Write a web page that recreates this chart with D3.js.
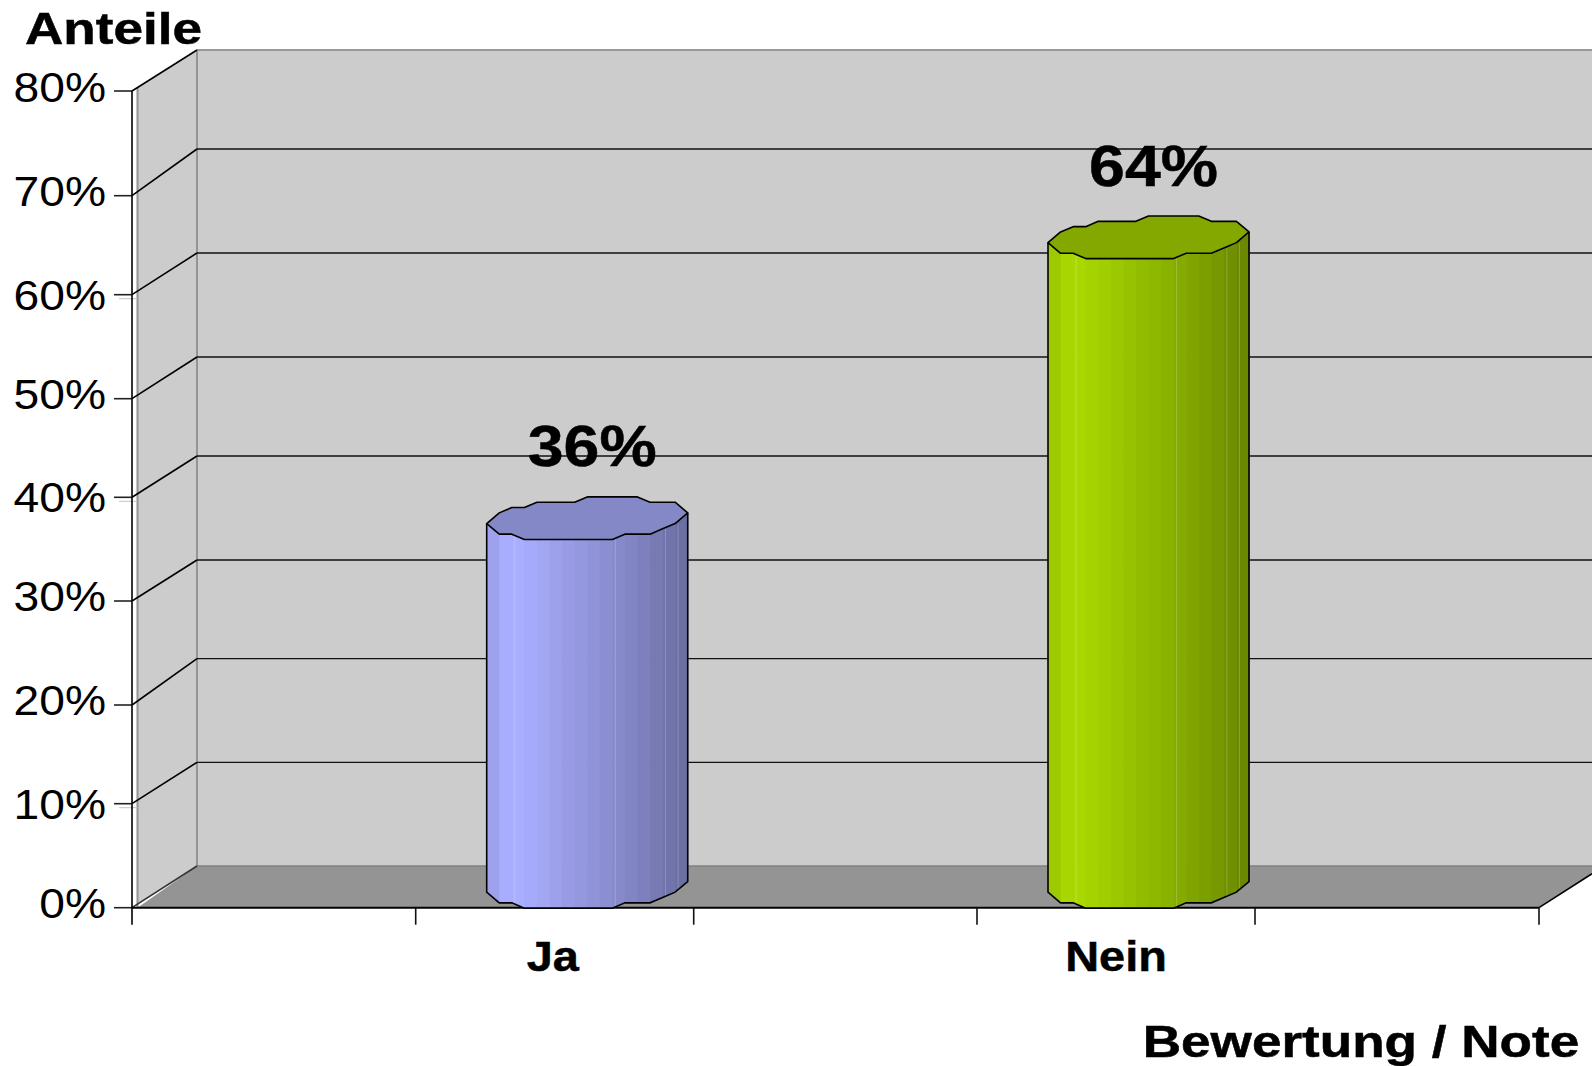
<!DOCTYPE html>
<html><head><meta charset="utf-8">
<script src="https://cdnjs.cloudflare.com/ajax/libs/d3/7.8.5/d3.min.js"></script>
<style>html,body{margin:0;padding:0;background:#fff;overflow:hidden}svg{display:block}
text{font-family:"Liberation Sans",Arial,sans-serif;fill:#000}</style></head><body>
<svg id="c" width="1592" height="1066"></svg>
<script>
const categories = ["Ja", "Nein"];
const values = [36, 63.6];
const barColors = ["#aaaeff", "#a8d800"];
const yTicks = [0, 10, 20, 30, 40, 50, 60, 70, 80];
const yTitle = "Anteile";
const xTitle = "Bewertung / Note";

const svg = d3.select("#c");
const W = 1592;
// The plot is an oblique 3-D box; scales reproduce the pixel-snapped source.
const yFront = d3.scaleLinear().domain(yTicks).range([907.7, 803.7, 705, 601, 497.3, 398.7, 294.7, 195.7, 91]);
const yBack  = d3.scaleLinear().domain(yTicks).range([866, 762.3, 658.7, 560, 456, 357, 253, 149, 50]);
const yLabel = d3.scaleLinear().domain(yTicks).range([918, 819, 715, 611, 512, 409, 310, 206, 102]);
const yMid = v => (yFront(v) + yBack(v)) / 2;
const x = d3.scaleLinear().domain(d3.range(6)).range([132, 415.7, 693.7, 977, 1255, 1539]);
const depth = 65, xB = x(0) + depth, wallX = 137.5;
const yMax = d3.max(yTicks), line = d3.line();

// walls and floor
const f = (wallX - x(0)) / depth;
const lerp = (a, b, t) => a + (b - a) * t;
svg.append("path").attr("fill", "#cccccc").attr("d", line([
  [wallX, lerp(yFront(yMax), yBack(yMax), f)], [xB, yBack(yMax)], [W, yBack(yMax)], [W, yBack(0)], [xB, yBack(0)],
  [wallX, lerp(yFront(0), yBack(0), f)]]) + "Z");
const xEnd = x(5), rightY = lerp(yFront(0), yBack(0), (W - xEnd) / depth);
svg.append("path").attr("fill", "#949494").attr("d", line([
  [wallX, yFront(0)], [xB, yBack(0)], [W, yBack(0)], [W, rightY], [xEnd, yFront(0)]]) + "Z");

// wall edges
const edge = (x1, y1, x2, y2, c, w) => svg.append("line").attr("x1", x1).attr("y1", y1).attr("x2", x2).attr("y2", y2).attr("stroke", c).attr("stroke-width", w);
edge(wallX, lerp(yFront(yMax), yBack(yMax), f), wallX, yFront(0), "#939393", 2);
edge(xB, yBack(yMax), xB, yBack(0), "#949494", 2);
edge(xB, yBack(yMax), W, yBack(yMax), "#999999", 2);
edge(xB, yBack(0), W, yBack(0), "#808080", 1.5);

// gridlines
yTicks.forEach(t => {
  if (t > 0 && t < yMax) edge(xB, yBack(t), W, yBack(t), "#111", 1.3);
  edge(x(0), yFront(t), xB, yBack(t), t === 0 ? "#333" : "#000", 1.6);
  edge(x(0) - 18, yFront(t), x(0), yFront(t), "#222", 1.6);
});
[10, 40, 60].forEach(t => edge(x(0) - 13, yFront(t) + 4, wallX, yFront(t) + 4, "#c4c4c4", 1));

// axes
edge(x(0), yFront(yMax), x(0), yFront(0) + 17, "#000", 1.6);
edge(x(0), yFront(0), xEnd, yFront(0), "#000", 2);
edge(xEnd, yFront(0), W, rightY, "#000", 1.6);
d3.range(1, 6).forEach(i => edge(x(i), yFront(0), x(i), yFront(0) + 17, "#111", 1.6));

// text helper: the source is stretched horizontally
function label(s, px, py, size, weight, sx, anchor) {
  const t = svg.append("text").text(s).attr("text-anchor", anchor)
    .attr("font-size", size).attr("font-weight", weight)
    .attr("transform", `translate(${px},${py}) scale(${sx},1)`);
  if (weight === "bold") t.attr("stroke", "#000").attr("stroke-width", 0.5);
}
yTicks.forEach(t => label(t + "%", 106, yLabel(t), 42, "normal", 1.1, "end"));
label(yTitle, 113.5, 43.5, 45, "bold", 1.18, "middle");
label(xTitle, 1361, 1057, 45, "bold", 1.18, "middle");
categories.forEach((c, i) => label(c, x(2 * i + 1.5) - (i === 0 ? 2 : 0), 970.5, 43, "bold", 1.09, "middle"));

// cylinders: sheared ellipse rim, pixel-stepped as in the source
const halfW = 100.5, shear = 26, rimA = Math.sqrt(halfW * halfW - shear * shear), rimB = 21.3, stepY = rimB / 4, nCols = 16, rimShift = 3, rimBias = 0.2;
function rim(dx0) {
  const dx = dx0 - rimShift * (1 - (dx0 / halfW) ** 2);
  const A = 1 + shear * shear / (rimA * rimA), B = -2 * dx * shear / (rimA * rimA), C = dx * dx / (rimA * rimA) - 1;
  const D = Math.sqrt(Math.max(0, B * B - 4 * A * C));
  const q = u => Math.round(u * rimB / stepY - rimBias) * stepY;
  return { up: -q((-B + D) / (2 * A)), low: -q((-B - D) / (2 * A)) };
}
const colX = d3.range(nCols + 1).map(i => -halfW + i * 2 * halfW / nCols);
const shade = d3.scaleLinear().domain([0, 0.05, 0.1, 0.17, 0.8, 0.9, 1]).range([0.91, 0.94, 1, 1, 0.73, 0.67, 0.62]);
const scaleCol = (c, k) => { const r = d3.rgb(c); return d3.rgb(r.r * k, r.g * k, r.b * k).formatHex(); };

categories.forEach((c, i) => {
  const cx = x(2 * i + 1.5) + depth / 2, cyT = yMid(values[i]), cyB = yMid(0), col = barColors[i];
  const g = svg.append("g");
  // body bands
  colX.slice(0, -1).forEach((dx, j) => {
    const a = colX[j], b = colX[j + 1];
    g.append("path").attr("fill", scaleCol(col, shade((j + 0.5) / nCols))).attr("d", line([
      [cx + a, cyT + rim(a).low], [cx + b + 0.6, cyT + rim(b).low],
      [cx + b + 0.6, cyB + rim(b).low], [cx + a, cyB + rim(a).low]]) + "Z");
  });
  // faint seams
  [2, 10, 14, 15].forEach(j => {
    const a = colX[j] + 3;
    g.append("line").attr("x1", cx + a).attr("x2", cx + a).attr("y1", cyT + rim(colX[j]).low).attr("y2", cyB + rim(colX[j]).low)
      .attr("stroke", "#fff").attr("stroke-opacity", 0.22).attr("stroke-width", 1);
  });
  // outline
  const lower = colX.map(d => [cx + d, cyB + rim(d).low]);
  g.append("path").attr("fill", "none").attr("stroke", "#000").attr("stroke-width", 1.6)
    .attr("d", line([[cx - halfW, cyT + rim(-halfW).low], ...lower, [cx + halfW, cyT + rim(halfW).low]]));
  // top cap
  const upper = colX.map(d => [cx + d, cyT + rim(d).up]);
  const under = colX.slice().reverse().map(d => [cx + d, cyT + rim(d).low]);
  g.append("path").attr("fill", scaleCol(col, 0.78)).attr("stroke", "#000").attr("stroke-width", 1.6)
    .attr("stroke-linejoin", "round").attr("d", line([...upper, ...under]) + "Z");
  label(d3.format(".0f")(values[i]) + "%", cx + 5, cyT - rimB - 30.5, 58, "bold", 1.11, "middle");
});
</script></body></html>
